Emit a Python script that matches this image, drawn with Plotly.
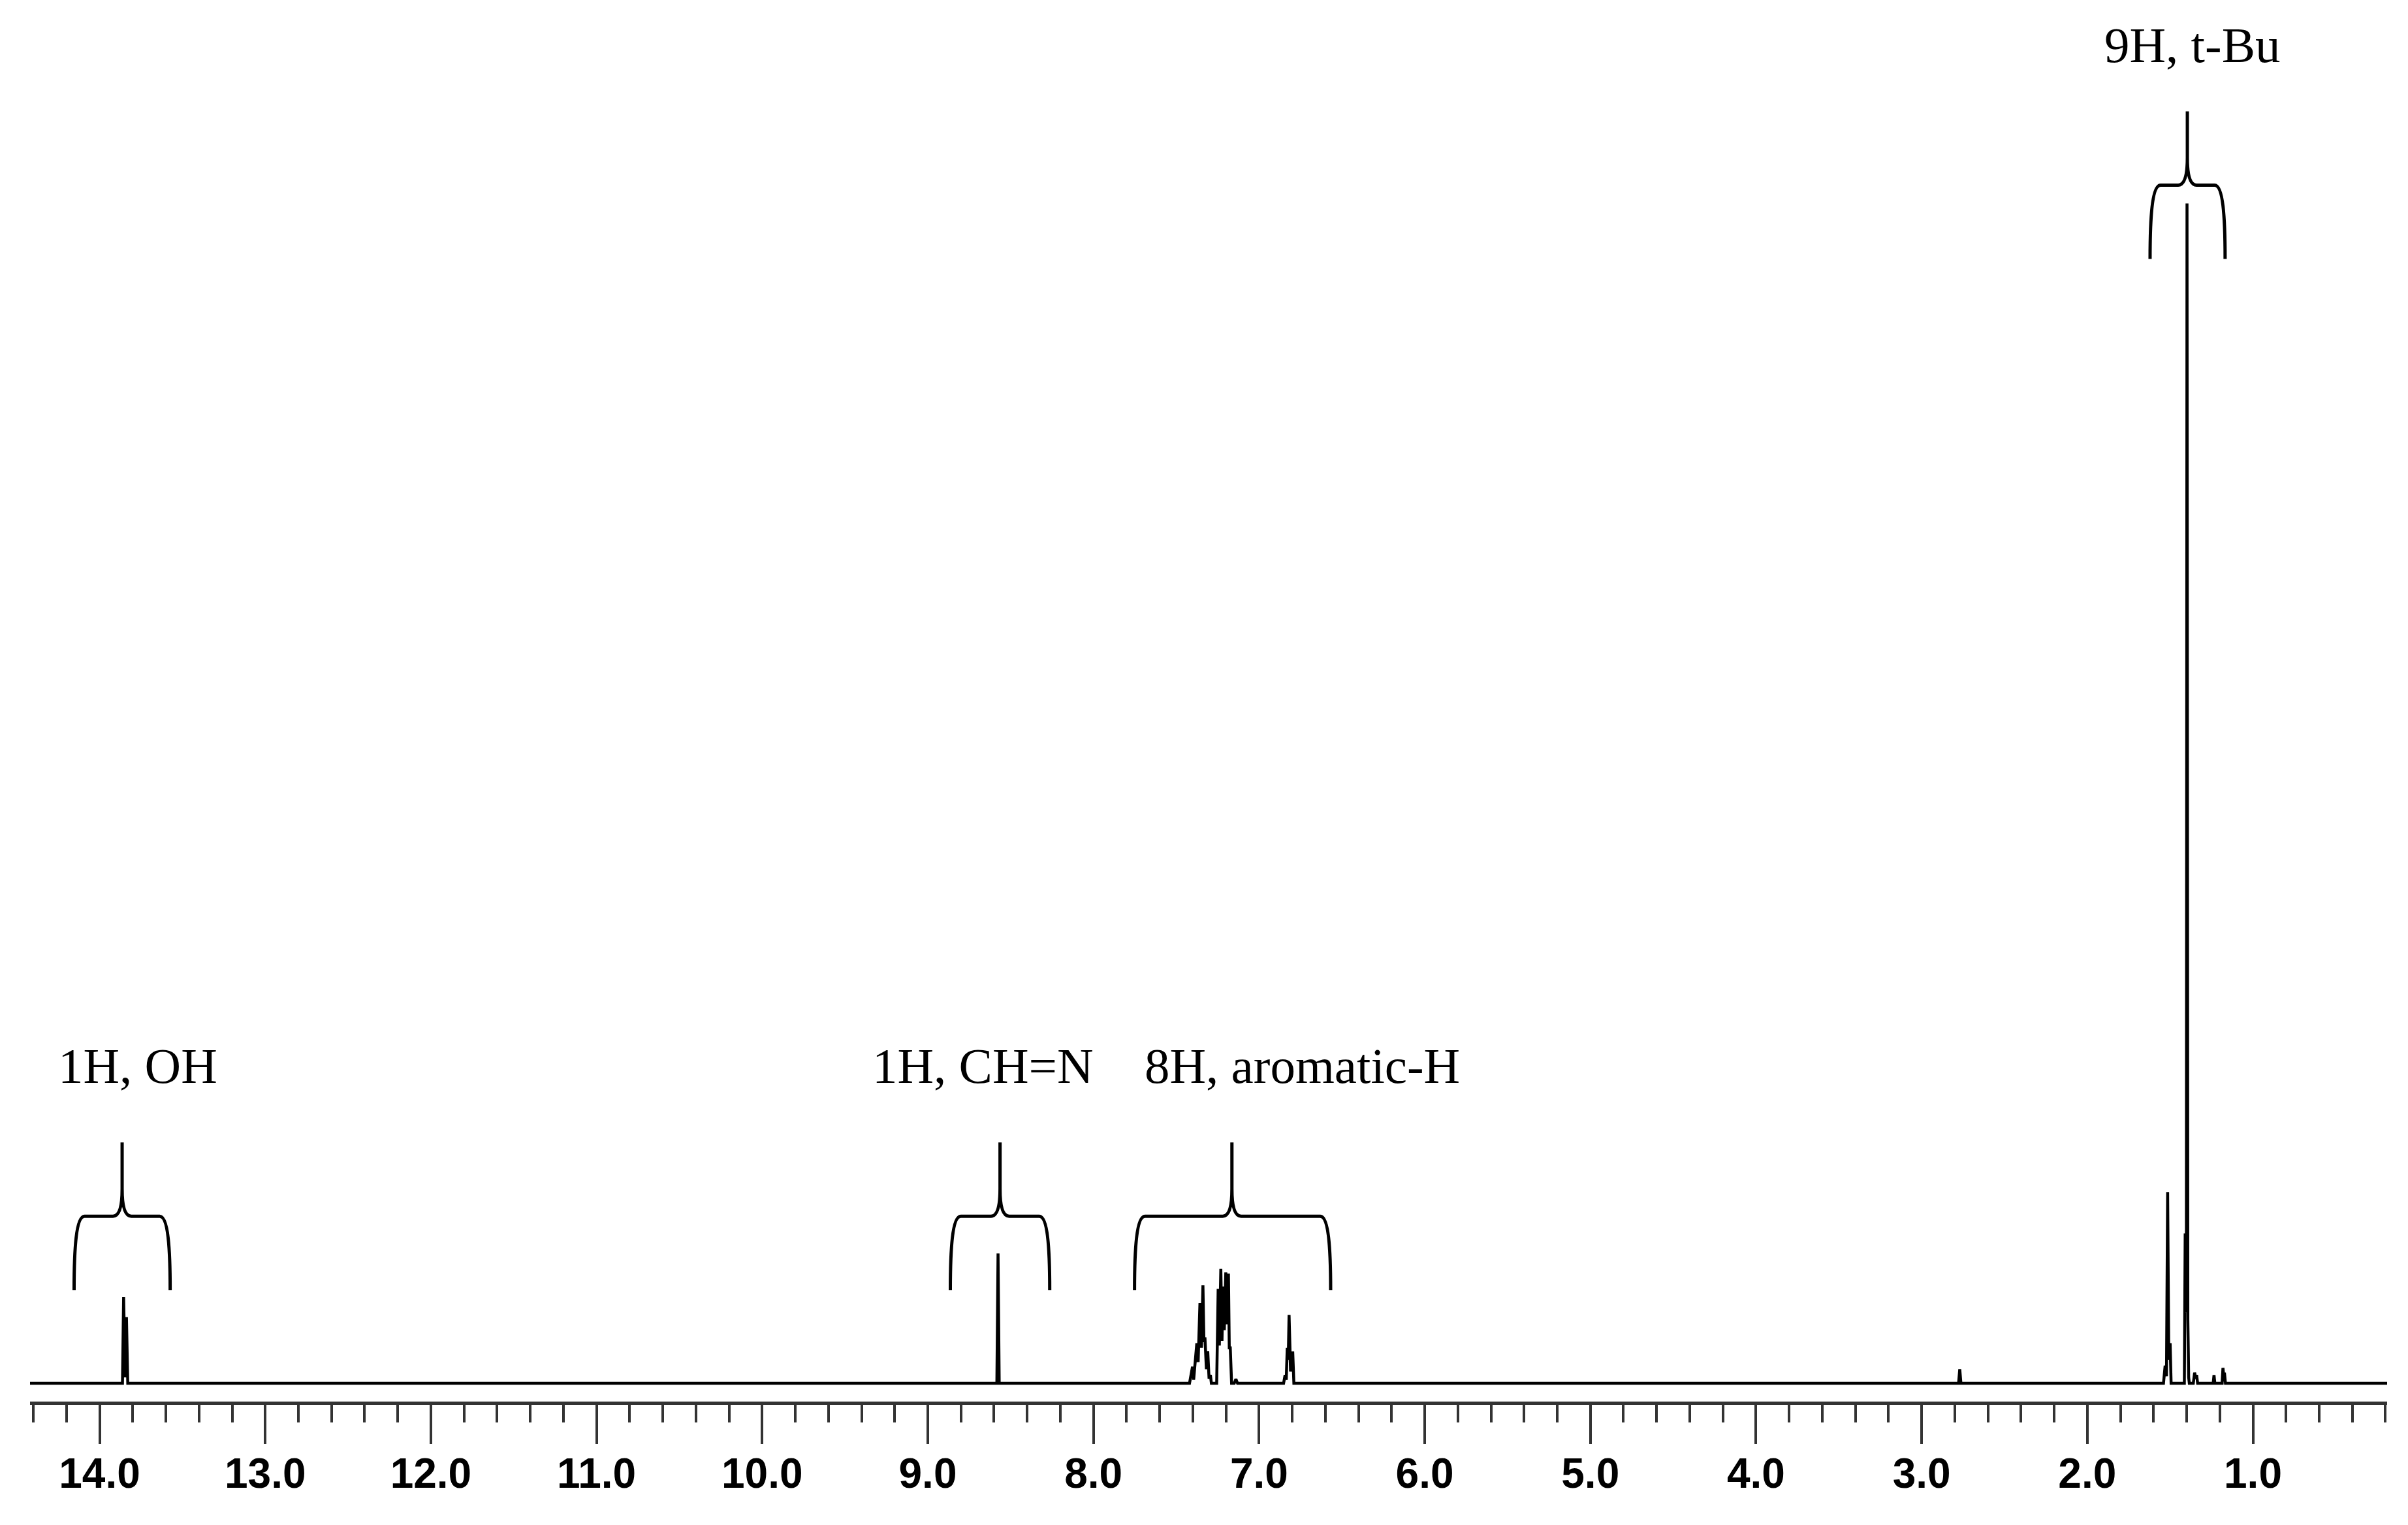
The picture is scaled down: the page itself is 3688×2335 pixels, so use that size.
"""1H NMR spectrum with integration braces."""
import plotly.graph_objects as go

# trace points: chemical shift (ppm) and relative intensity (t-Bu = 100)
shift_ppm = [
    14.42,
    13.862, 13.855, 13.846, 13.838, 13.830,
    8.583, 8.576, 8.569,
    7.420, 7.402, 7.395, 7.376, 7.368, 7.357, 7.348, 7.339, 7.333, 7.327, 7.318, 7.310, 7.302, 7.294, 7.288,
    7.256, 7.247, 7.240, 7.231, 7.224, 7.218, 7.210, 7.201, 7.193, 7.185, 7.180, 7.174, 7.166,
    7.150, 7.140, 7.130,
    6.852, 6.843, 6.836, 6.830, 6.824, 6.819, 6.810, 6.797, 6.790,
    2.777, 2.770, 2.763,
    1.540, 1.530, 1.522, 1.515, 1.508, 1.500, 1.494,
    1.414, 1.409, 1.402, 1.398, 1.393, 1.388, 1.384,
    1.360, 1.352, 1.345, 1.340, 1.334,
    1.240, 1.235, 1.230,
    1.186, 1.181, 1.176, 1.172, 1.166,
    0.19,
]
intensity = [
    0,
    0, 7.3, 0.5, 5.6, 0,
    0, 11.0, 0,
    0, 1.4, 0.3, 3.4, 1.8, 6.8, 3.0, 8.3, 3.5, 3.9, 1.2, 2.7, 0.4, 0.7, 0,
    0, 8.0, 3.2, 9.7, 3.6, 8.2, 4.5, 9.4, 5.0, 9.3, 3.0, 3.0, 0,
    0, 0.35, 0,
    0, 0.7, 0.3, 3.0, 2.0, 5.8, 1.0, 2.7, 0,
    0, 1.2, 0,
    0, 1.5, 0.6, 16.2, 2.0, 3.4, 0,
    0, 12.7, 6.0, 100, 5.4, 0.5, 0,
    0, 0.9, 0.4, 0.7, 0,
    0, 0.7, 0,
    0, 1.3, 0.6, 0.9, 0,
    0,
]

# integration groups
group_labels = ["1H, OH", "1H, CH=N", "8H, aromatic-H", "9H, t-Bu"]
group_left = [14.154, 8.864, 7.752, 1.621]
group_right = [13.574, 8.264, 6.568, 1.168]
group_mid = [13.864, 8.564, 7.164, 1.396]

# where each brace / label sits (layout only)
brace_base = [7.9, 7.9, 7.9, 95.3]
label_x = [13.77, 8.667, 6.74, 1.365]
label_y = [26.9, 26.9, 26.9, 113.4]

PX = 1 / 253.5      # ppm per pixel
PY = 1 / 18.07      # intensity unit per pixel


def brace_path(l, r, m, y0):
    arm = 113 * PY
    ya = y0 + arm
    yt = ya + arm
    cx = 16 * PX
    jx, jy = 14 * PX, 42 * PY
    pts = [
        f"M{l},{y0}",
        f"C{l},{y0 + 0.55 * arm} {l - 3 * PX},{ya} {l - cx},{ya}",
        f"L{m + jx},{ya}",
        f"Q{m},{ya} {m},{ya + jy}",
        f"L{m},{yt}",
        f"L{m},{ya + jy}",
        f"Q{m},{ya} {m - jx},{ya}",
        f"L{r + cx},{ya}",
        f"C{r + 3 * PX},{ya} {r},{y0 + 0.55 * arm} {r},{y0}",
    ]
    return " ".join(pts)


fig = go.Figure()
fig.add_trace(go.Scatter(x=shift_ppm, y=intensity, mode='lines',
                         line=dict(color='black', width=4.5), showlegend=False,
                         hoverinfo='skip'))

for i in range(len(group_labels)):
    fig.add_shape(type='path', xref='x', yref='y',
                  path=brace_path(group_left[i], group_right[i], group_mid[i], brace_base[i]),
                  line=dict(color='black', width=5))
    fig.add_annotation(x=label_x[i], y=label_y[i], xref='x', yref='y',
                       text=group_labels[i], showarrow=False,
                       xanchor='center', yanchor='middle',
                       font=dict(family='Liberation Serif, Times New Roman, serif',
                                 size=77, color='black'))

fig.update_xaxes(range=[14.42, 0.19], showgrid=False, zeroline=False,
                 showline=True, linecolor='#333333', linewidth=5,
                 ticks='outside', tick0=0, dtick=1, ticklen=60, tickwidth=4,
                 tickcolor='#333333', tickformat='.1f', ticklabelstandoff=-10,
                 tickfont=dict(family='Liberation Sans, Arial, sans-serif',
                               size=64, color='black', weight='bold'),
                 minor=dict(ticks='outside', tick0=0, dtick=0.2, ticklen=27,
                            tickwidth=4, tickcolor='#333333', showgrid=False))
fig.update_yaxes(range=[-1.55, 116.8], visible=False)

fig.update_layout(width=3688, height=2335,
                  margin=dict(l=38, r=40, t=0, b=197),
                  paper_bgcolor='white', plot_bgcolor='white')

fig.write_html("out.html")
